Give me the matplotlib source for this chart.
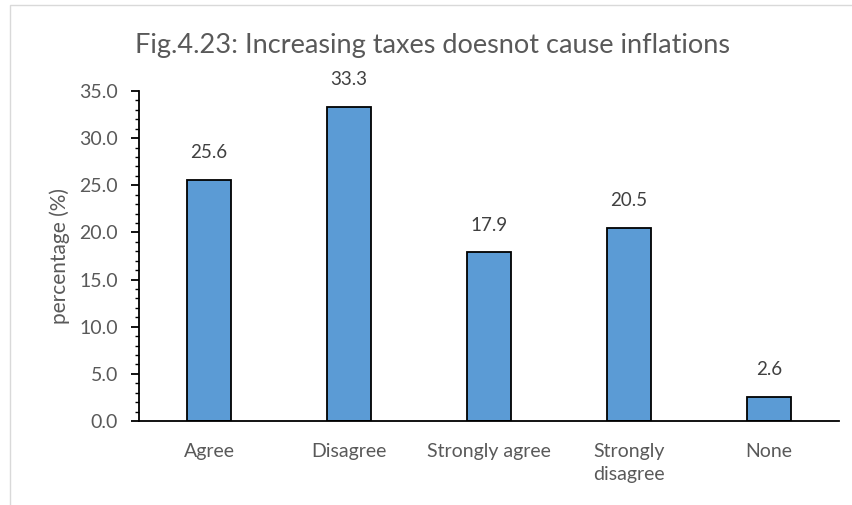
import matplotlib.pyplot as plt
from matplotlib.ticker import MultipleLocator
from matplotlib.patches import Rectangle

categories = ['Agree', 'Disagree', 'Strongly agree', 'Strongly\ndisagree', 'None']
values = [25.6, 33.3, 17.9, 20.5, 2.6]

plt.rcParams['font.family'] = ['Lato', 'DejaVu Sans']

fig = plt.figure(figsize=(8.53, 5.05), dpi=100)
ax = fig.add_axes([0.163, 0.1663, 0.8206, 0.6535])

# light frame round the chart area, as in the source
fig.patches.append(Rectangle((10 / 853, -0.1), 1.2, 1 - 5 / 505 + 0.1, transform=fig.transFigure,
                             fill=False, edgecolor='#d9d9d9', linewidth=1.0))

x = range(len(categories))
bars = ax.bar(x, values, width=0.31, color='#5B9BD5', edgecolor='black', linewidth=1.3)

for b, v in zip(bars, values):
    ax.annotate(f'{v:.1f}', (b.get_x() + b.get_width() / 2, v), xytext=(0, 19.5),
                textcoords='offset points', ha='center', va='center',
                fontsize=13.5, color='#404040')

ax.set_xlim(-0.5, len(categories) - 0.5)
ax.set_ylim(0, 35)
ax.yaxis.set_major_locator(MultipleLocator(5))
ax.yaxis.set_minor_locator(MultipleLocator(1))
ax.yaxis.set_major_formatter(lambda v, p: f'{v:.1f}')
ax.set_xticks(list(x))
ax.set_xticklabels(categories, linespacing=1.4)

for s in ['top', 'right']:
    ax.spines[s].set_visible(False)
ax.spines['left'].set_linewidth(1.3)
ax.spines['bottom'].set_linewidth(1.3)

ax.tick_params(axis='x', length=0, pad=16, labelsize=14, labelcolor='#595959')
ax.tick_params(axis='y', which='major', length=6, width=1.3, labelsize=14, labelcolor='#595959', pad=9)
ax.tick_params(axis='y', which='minor', length=3, width=1.0)

ax.set_ylabel('percentage (%)', fontsize=15, color='#595959', labelpad=7)
fig.text(0.507, 1 - 45 / 505, 'Fig.4.23: Increasing taxes doesnot cause inflations',
         ha='center', va='center', fontsize=19.5, color='#595959')

fig.savefig('out.png', dpi=100)
